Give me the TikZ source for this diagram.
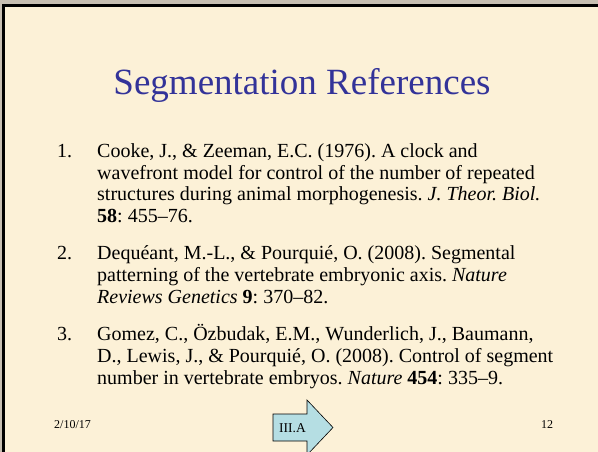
\documentclass[tikz,border=0pt]{standalone}
\usepackage{fontspec}
\setmainfont{Liberation Serif}
\frenchspacing
\definecolor{parchment}{rgb}{0.988,0.945,0.845}
\definecolor{edgegrey}{rgb}{0.78,0.75,0.70}
\definecolor{titleblue}{rgb}{0.2,0.2,0.6}
\definecolor{buttonblue}{rgb}{0.71,0.87,0.89}

\begin{document}
\begin{tikzpicture}[x=1pt,y=-1pt,
  reftext/.style={anchor=base west,inner sep=0pt,font=\fontsize{20}{22}\selectfont},
  footer/.style={anchor=base west,inner sep=0pt,font=\fontsize{12}{14}\selectfont}]
\useasboundingbox (0,0) rectangle (598,452);
% slide
\fill[edgegrey] (0,0) rectangle (598,452);
\fill[black] (2,4) rectangle (598,452);
\fill[parchment] (5,7) rectangle (598,452);
\node[titleblue,anchor=base,inner sep=0pt,font=\fontsize{37}{40}\selectfont] (title) at (302,94.5) {Segmentation References};
% ref 1
\node[reftext] (n1) at (57,157.5) {1.};
\foreach \t [count=\i] in {{Cooke, J., \& Zeeman, E.C. (1976). A clock and},
    {wavefront model for control of the number of repeated},
    {structures during animal morphogenesis. \textit{J. Theor. Biol.}},
    {\textbf{58}: 455–76.}}
    \node[reftext] (a\i) at (97,{157.5+(\i-1)*21.6}) {\t};
% ref 2
\node[reftext] (n2) at (57,259.8) {2.};
\foreach \t [count=\i] in {{Dequéant, M.-L., \& Pourquié, O. (2008). Segmental},
    {patterning of the vertebrate embryonic axis. \textit{Nature}},
    {\textit{Reviews Genetics} \textbf{9}: 370–82.}}
    \node[reftext] (b\i) at (97,{259.8+(\i-1)*21.6}) {\t};
% ref 3
\node[reftext] (n3) at (57,340.8) {3.};
\foreach \t [count=\i] in {{Gomez, C., Özbudak, E.M., Wunderlich, J., Baumann,},
    {D., Lewis, J., \& Pourquié, O. (2008). Control of segment},
    {number in vertebrate embryos. \textit{Nature} \textbf{454}: 335–9.}}
    \node[reftext] (c\i) at (97,{340.8+(\i-1)*21.6}) {\t};
% footer
\node[footer] (date) at (54,428) {2/10/17};
\node[footer] (page) at (541,428) {12};
\draw[fill=buttonblue,line width=0.6pt,line join=miter]
    (273,414) -- (307,414) -- (307,400) -- (333,427.5) -- (307,455) -- (307,441) -- (273,441) -- cycle;
\node[footer,font=\fontsize{13.5}{15}\selectfont] (next) at (279,432) {III.A};
\end{tikzpicture}
\end{document}
